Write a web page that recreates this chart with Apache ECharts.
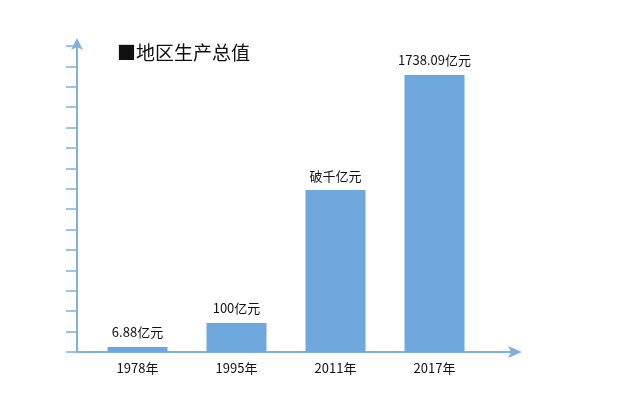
<!DOCTYPE html><html><head><meta charset="utf-8"><script src="https://cdn.jsdelivr.net/npm/echarts@6/dist/echarts.min.js"></script></head><body style="margin:0;background:#fff"><div id="c" style="width:621px;height:412px"></div><script>
var categories=['1978年','1995年','2011年','2017年'];
var barValues=[31,182,1016,1738.09];
var barLabels=['6.88亿元','100亿元','破千亿元','1738.09亿元'];
var ch=echarts.init(document.getElementById('c'));
var ax='#7fb0e0';
ch.setOption({
 title:{text:'■地区生产总值',left:112,top:38,textStyle:{fontSize:19,fontWeight:'normal',color:'#111',fontFamily:'Noto Sans CJK SC'}},
 grid:{left:88,right:137,top:46,bottom:60},
 graphic:[
  {type:'line',shape:{x1:77,y1:352,x2:514,y2:352},style:{stroke:ax,lineWidth:2},z:1},
  {type:'polygon',shape:{points:[[522,352],[508,346],[511,352],[508,358]]},style:{fill:ax},z:1}
 ],
 xAxis:{type:'category',data:categories,axisTick:{show:false},
  axisLine:{lineStyle:{color:ax,width:2}},
  axisLabel:{color:'#111',fontSize:13,margin:10,fontFamily:'Noto Sans CJK SC'}},
 yAxis:{type:'value',min:0,max:1920,interval:128,offset:11,splitLine:{show:false},axisLabel:{show:false},
  axisLine:{show:true,lineStyle:{color:ax,width:2},symbol:['none','arrow'],symbolSize:[9,12],symbolOffset:[0,8]},
  axisTick:{show:true,length:11,lineStyle:{color:ax,width:1.5}}},
 series:[{type:'bar',barWidth:60,data:barValues,itemStyle:{color:'#6fa8dc'},
  label:{show:true,position:'top',distance:8,color:'#111',fontSize:13,fontFamily:'Noto Sans CJK SC',formatter:function(p){return barLabels[p.dataIndex];}}}]
});
</script></body></html>
